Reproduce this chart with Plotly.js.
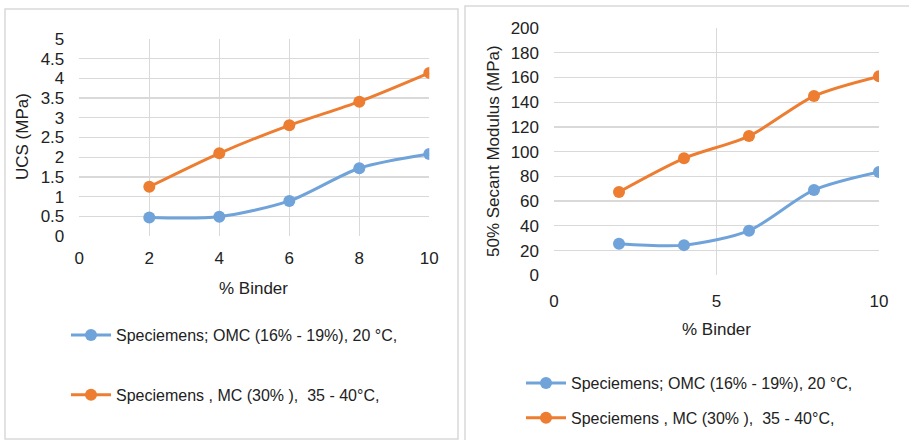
<!DOCTYPE html>
<html>
<head>
<meta charset="utf-8">
<script src="https://cdn.plot.ly/plotly-3.0.1.min.js"></script>
<style>html,body{margin:0;padding:0;background:#fff;}#chart{width:909px;height:440px;}</style>
</head>
<body>
<div id="chart"></div>
<script>
// ---- data ----
const binder = [2, 4, 6, 8, 10];
const ucsOMC = [0.47, 0.49, 0.89, 1.72, 2.08];
const ucsMC = [1.25, 2.10, 2.81, 3.41, 4.14];
const secOMC = [25.6, 24.4, 36.1, 69.0, 83.6];
const secMC = [67.4, 94.6, 112.6, 145.0, 160.9];
const nameOMC = 'Speciemens; OMC (16% - 19%), 20 °C,';
const nameMC = 'Speciemens , MC (30% ),  35 - 40°C,';
const leftTicks = [0, 2, 4, 6, 8, 10];
const rightTicks = [0, 5, 10];

const W = 909, H = 440;
const px = v => v / W;
const py = v => 1 - v / H;
const blue = '#6FA3D9', orange = '#ED7D31';
const FONT = 'Liberation Sans, Arial, sans-serif';
const txt = '#222222';

function tr(x, y, name, color, xa, ya, leg, grp) {
  return {
    x: x, y: y, name: name, type: 'scatter', mode: 'lines+markers',
    xaxis: xa, yaxis: ya, legend: leg, legendgroup: grp,
    line: {color: color, width: 3, shape: 'spline', smoothing: 0.8},
    marker: {color: color, size: 12}
  };
}

const data = [
  tr(binder, ucsOMC, nameOMC, blue, 'x', 'y', 'legend', 'a'),
  tr(binder, ucsMC, nameMC, orange, 'x', 'y', 'legend', 'b'),
  tr(binder, secOMC, nameOMC, blue, 'x2', 'y2', 'legend2', 'c'),
  tr(binder, secMC, nameMC, orange, 'x2', 'y2', 'legend2', 'd')
];

const axBase = {
  showgrid: true, gridcolor: '#D9D9D9', gridwidth: 1.3,
  zeroline: false, showline: false, ticks: '',
  tickfont: {family: FONT, size: 17, color: txt}, fixedrange: true
};

function title(text, x, y, angle) {
  return {text: text, xref: 'paper', yref: 'paper', x: px(x), y: py(y),
    xanchor: 'center', yanchor: 'middle', textangle: angle || 0,
    showarrow: false, font: {family: FONT, size: 17, color: txt}};
}

const layout = {
  width: W, height: H,
  margin: {l: 0, r: 0, t: 0, b: 0},
  paper_bgcolor: '#ffffff', plot_bgcolor: '#ffffff',
  font: {family: FONT, color: txt},
  xaxis: Object.assign({}, axBase, {
    domain: [px(79.3), px(429.3)], anchor: 'y', range: [0, 10],
    tickmode: 'array', tickvals: leftTicks, ticklabelstandoff: 10
  }),
  yaxis: Object.assign({}, axBase, {
    domain: [py(236), py(39)], anchor: 'x', range: [0, 5], dtick: 0.5,
    ticklabelstandoff: 14
  }),
  xaxis2: Object.assign({}, axBase, {
    domain: [px(554), px(879)], anchor: 'y2', range: [0, 10],
    tickmode: 'array', tickvals: rightTicks, ticklabelstandoff: 14
  }),
  yaxis2: Object.assign({}, axBase, {
    domain: [py(275.3), py(28)], anchor: 'x2', range: [0, 200], dtick: 20,
    ticklabelstandoff: 14
  }),
  showlegend: true,
  legend: {
    x: px(66), y: py(318), xanchor: 'left', yanchor: 'top',
    traceorder: 'grouped', tracegroupgap: 36, itemwidth: 40,
    font: {family: FONT, size: 16, color: txt}, bgcolor: 'rgba(0,0,0,0)'
  },
  legend2: {
    x: px(521), y: py(366), xanchor: 'left', yanchor: 'top',
    traceorder: 'grouped', tracegroupgap: 11, itemwidth: 40,
    font: {family: FONT, size: 16, color: txt}, bgcolor: 'rgba(0,0,0,0)'
  },
  annotations: [
    title('% Binder', 254, 288),
    title('UCS (MPa)', 23, 137, -90),
    title('% Binder', 716, 329),
    title('50% Secant Modulus (MPa)', 493, 151, -90)
  ],
  shapes: [
    {type: 'rect', xref: 'paper', yref: 'paper', x0: px(5), x1: px(458), y0: py(439), y1: py(9),
     line: {color: '#D9D9D9', width: 1.5}},
    {type: 'rect', xref: 'paper', yref: 'paper', x0: px(465), x1: px(920), y0: py(450), y1: py(6),
     line: {color: '#D9D9D9', width: 1.5}}
  ]
};

Plotly.newPlot('chart', data, layout, {staticPlot: true, displayModeBar: false});
</script>
</body>
</html>
